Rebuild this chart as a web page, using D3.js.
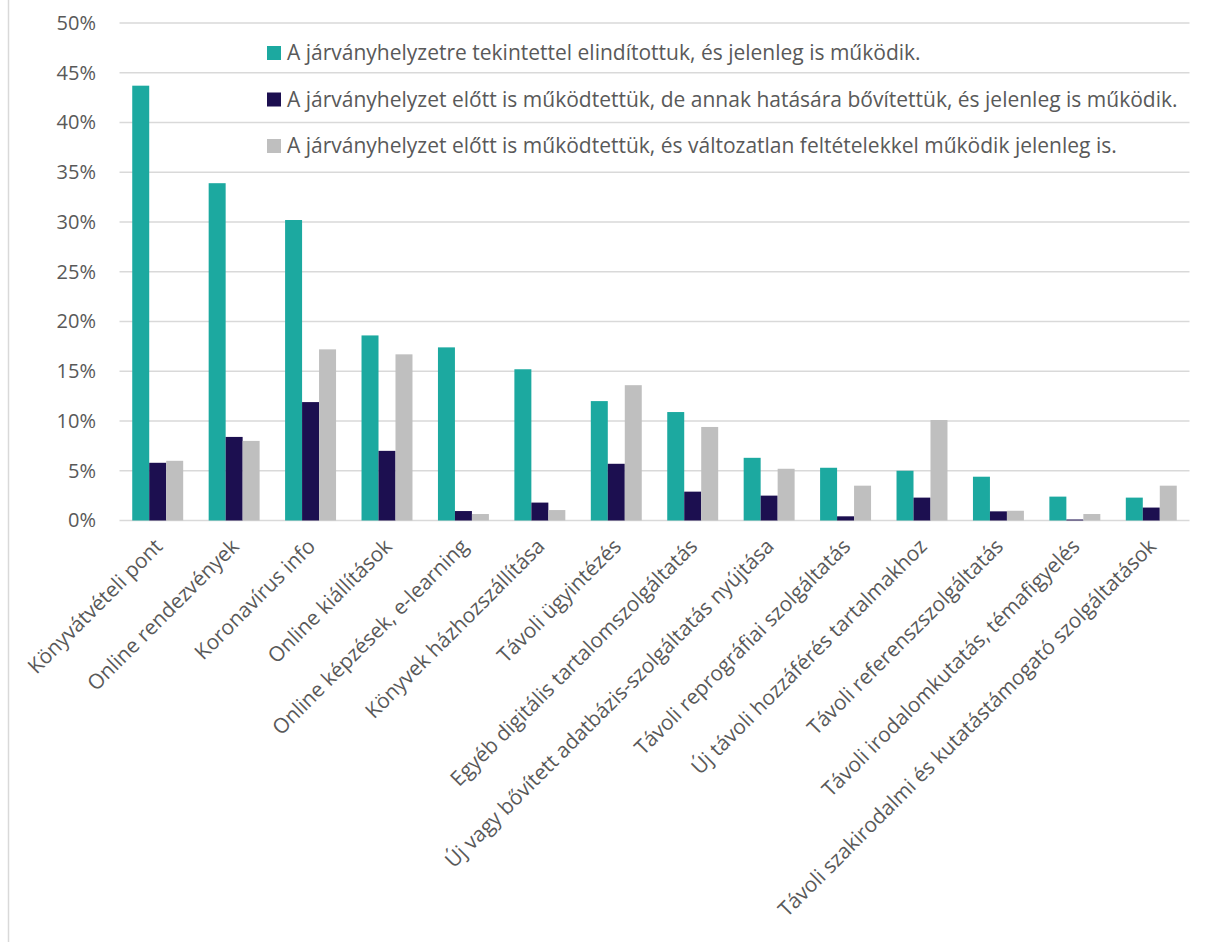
<!DOCTYPE html>
<html>
<head>
<meta charset="utf-8">
<script src="https://cdn.jsdelivr.net/npm/d3@7"></script>
<style>
  html, body { margin: 0; padding: 0; background: #fff; }
  svg { display: block; }
</style>
</head>
<body>
<svg id="chart" width="1208" height="942"></svg>
<script>
const categories = [
  "Könyvátvételi pont",
  "Online rendezvények",
  "Koronavírus info",
  "Online kiállítások",
  "Online képzések, e-learning",
  "Könyvek házhozszállítása",
  "Távoli ügyintézés",
  "Egyéb digitális tartalomszolgáltatás",
  "Új vagy bővített adatbázis-szolgáltatás nyújtása",
  "Távoli reprográfiai szolgáltatás",
  "Új távoli hozzáférés tartalmakhoz",
  "Távoli referenszszolgáltatás",
  "Távoli irodalomkutatás, témafigyelés",
  "Távoli szakirodalmi és kutatástámogató szolgáltatások"
];
const seriesNames = [
  "A járványhelyzetre tekintettel elindítottuk, és jelenleg is működik.",
  "A járványhelyzet előtt is működtettük, de annak hatására bővítettük, és jelenleg is működik.",
  "A járványhelyzet előtt is működtettük, és változatlan feltételekkel működik jelenleg is."
];
const seriesColors = ["#1ca9a0", "#1c0f50", "#bfbfbf"];
const newSince = [0.437, 0.339, 0.302, 0.186, 0.174, 0.152, 0.120, 0.109, 0.063, 0.053, 0.050, 0.044, 0.024, 0.023];
const expanded = [0.058, 0.084, 0.119, 0.070, 0.0095, 0.018, 0.057, 0.029, 0.025, 0.0042, 0.023, 0.0092, 0.001, 0.013];
const unchanged = [0.060, 0.080, 0.172, 0.167, 0.0065, 0.0105, 0.136, 0.094, 0.052, 0.035, 0.101, 0.0098, 0.0065, 0.035];
const yTicks = [0, 0.05, 0.10, 0.15, 0.20, 0.25, 0.30, 0.35, 0.40, 0.45, 0.50];

const seriesValues = [newSince, expanded, unchanged];

const svg = d3.select("#chart");
const textColor = "#595959";
const gridColor = "#d9d9d9";

// left frame line
svg.append("line")
  .attr("x1", 8.5).attr("x2", 8.5).attr("y1", 0).attr("y2", 942)
  .attr("stroke", gridColor).attr("stroke-width", 1.5);

const x = d3.scaleBand().domain(categories).range([119.5, 1189.5]).padding(0);
const xs = d3.scaleBand().domain(d3.range(3)).range([0, x.bandwidth()]).paddingInner(0).paddingOuter(0.75);
const y = d3.scaleLinear().domain([0, 0.5]).range([520.5, 23]);

// gridlines
svg.append("g")
  .selectAll("line")
  .data(yTicks)
  .join("line")
  .attr("x1", 119.5).attr("x2", 1189.5)
  .attr("y1", d => y(d)).attr("y2", d => y(d))
  .attr("stroke", gridColor).attr("stroke-width", 1.5);

// y axis labels
const yAxis = d3.axisLeft(y).tickValues(yTicks).tickFormat(d3.format(".0%")).tickSize(0).tickPadding(0);
const yg = svg.append("g").attr("transform", "translate(96,0)").call(yAxis);
yg.select(".domain").remove();
yg.selectAll("text")
  .attr("fill", textColor)
  .style("font-family", "'Open Sans', sans-serif")
  .style("font-size", "20px");

// bars
const groups = svg.append("g")
  .selectAll("g")
  .data(seriesValues)
  .join("g")
  .attr("fill", (d, i) => seriesColors[i]);

groups.each(function(vals, si) {
  d3.select(this).selectAll("rect")
    .data(vals)
    .join("rect")
    .attr("x", (d, i) => x(categories[i]) + xs(si))
    .attr("width", xs.bandwidth())
    .attr("y", d => y(d))
    .attr("height", d => y(0) - y(d));
});

// x axis labels
const xAxis = d3.axisBottom(x).tickSize(0).tickPadding(0);
const xg = svg.append("g").attr("transform", "translate(0,520.5)").call(xAxis);
xg.select(".domain").remove();
xg.selectAll(".tick text")
  .attr("fill", textColor)
  .style("font-family", "'Open Sans', sans-serif")
  .style("font-size", "20.8px")
  .attr("text-anchor", "end")
  .attr("y", null)
  .attr("transform", "translate(1,22) rotate(-45)")
  .attr("dy", "0.35em");

// legend
const legend = svg.append("g");
const legendY = [53, 99.5, 146];
seriesNames.forEach((name, i) => {
  legend.append("rect")
    .attr("x", 267).attr("y", legendY[i] - 7)
    .attr("width", 14).attr("height", 14)
    .attr("fill", seriesColors[i]);
  legend.append("text")
    .attr("x", 287).attr("y", legendY[i])
    .attr("dy", "0.35em")
    .attr("fill", textColor)
    .style("font-family", "'Open Sans', sans-serif")
    .style("font-size", "21px")
    .text(name);
});
</script>
</body>
</html>
